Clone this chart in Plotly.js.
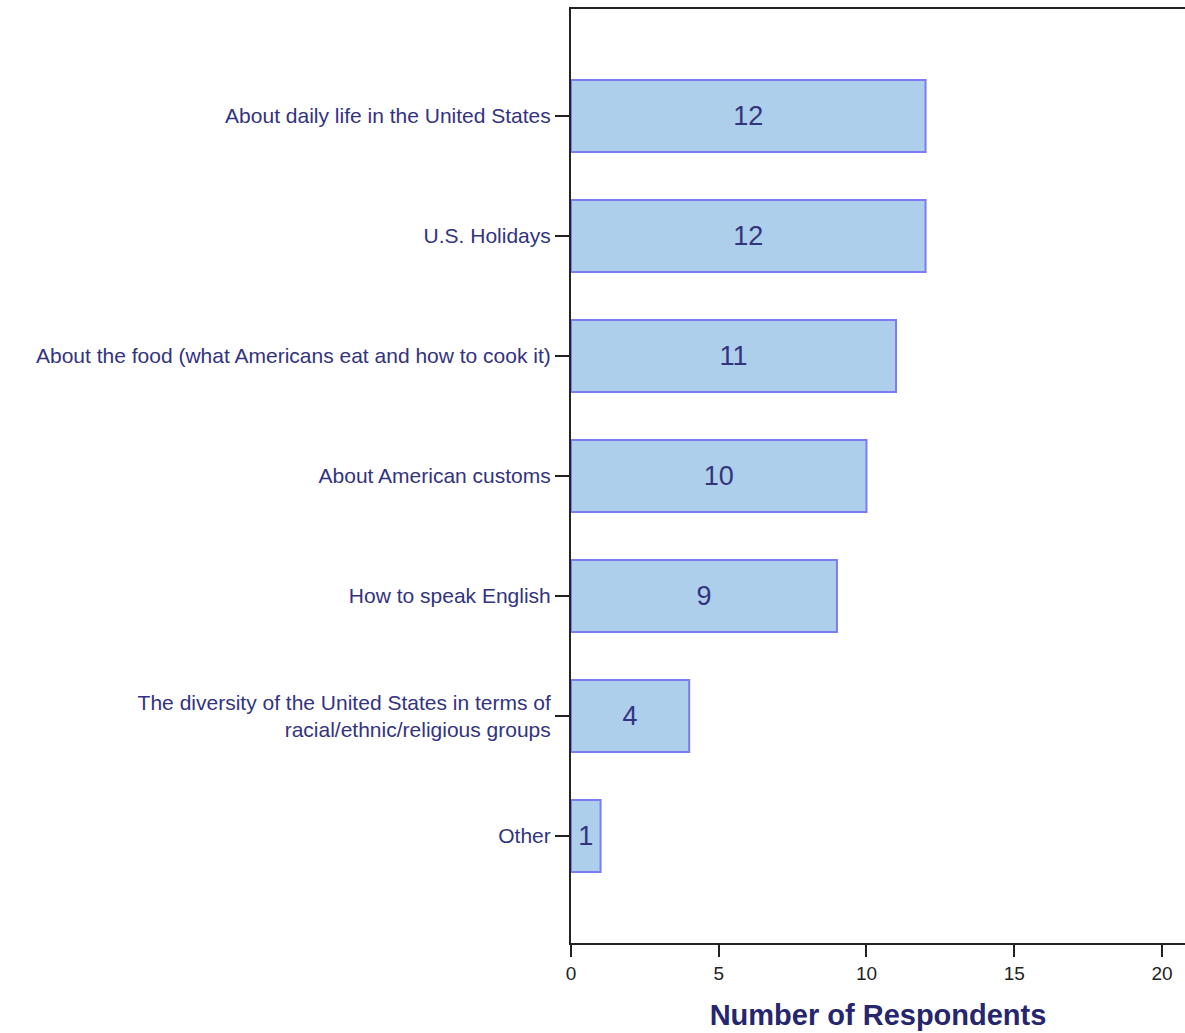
<!DOCTYPE html>
<html>
<head>
<meta charset="utf-8">
<script src="https://cdn.plot.ly/plotly-3.0.1.min.js"></script>
<style>html,body{margin:0;padding:0;background:#fff;}#chart{width:1185px;height:1033px;}</style>
</head>
<body>
<div id="chart"></div>
<script>
var categories = [
  "About daily life in the United States",
  "U.S. Holidays",
  "About the food (what Americans eat and how to cook it)",
  "About American customs",
  "How to speak English",
  "The diversity of the United States in terms of<br>racial/ethnic/religious groups",
  "Other"
];
var respondents = [12, 12, 11, 10, 9, 4, 1];
var xTickValues = [0, 5, 10, 15, 20];
var xTickLabels = ["0", "5", "10", "15", "20"];

var trace = {
  type: "bar",
  orientation: "h",
  y: categories,
  x: respondents,
  width: 0.6,
  text: respondents.map(String),
  textposition: "inside",
  insidetextanchor: "middle",
  constraintext: "none",
  textfont: {family: "Liberation Sans, Arial, sans-serif", size: 27, color: "#34347e"},
  marker: {color: "#aecfec", line: {color: "#7b7bf5", width: 2}},
  hoverinfo: "x+y"
};

var layout = {
  width: 1185,
  height: 1033,
  margin: {l: 571, r: 0, t: 9, b: 90},
  paper_bgcolor: "#ffffff",
  plot_bgcolor: "#ffffff",
  showlegend: false,
  font: {family: "Liberation Sans, Arial, sans-serif"},
  xaxis: {
    range: [0, 20.78],
    tickvals: xTickValues,
    ticktext: xTickLabels,
    ticks: "outside",
    ticklen: 12,
    tickwidth: 2,
    tickcolor: "#222",
    showline: true,
    linecolor: "#222",
    linewidth: 2,
    mirror: true,
    showgrid: false,
    zeroline: false,
    tickfont: {size: 19, color: "#222"},
    title: {text: "<b>Number of Respondents</b>", font: {size: 29, color: "#26266e"}, standoff: 22}
  },
  yaxis: {
    type: "category",
    range: [6.892, -0.892],
    ticks: "outside",
    ticklen: 14,
    tickwidth: 2,
    tickcolor: "#222",
    showline: true,
    linecolor: "#222",
    linewidth: 2,
    showgrid: false,
    zeroline: false,
    tickfont: {size: 21, color: "#33337f"}
  }
};

Plotly.newPlot("chart", [trace], layout, {displayModeBar: false, staticPlot: true});
</script>
</body>
</html>
